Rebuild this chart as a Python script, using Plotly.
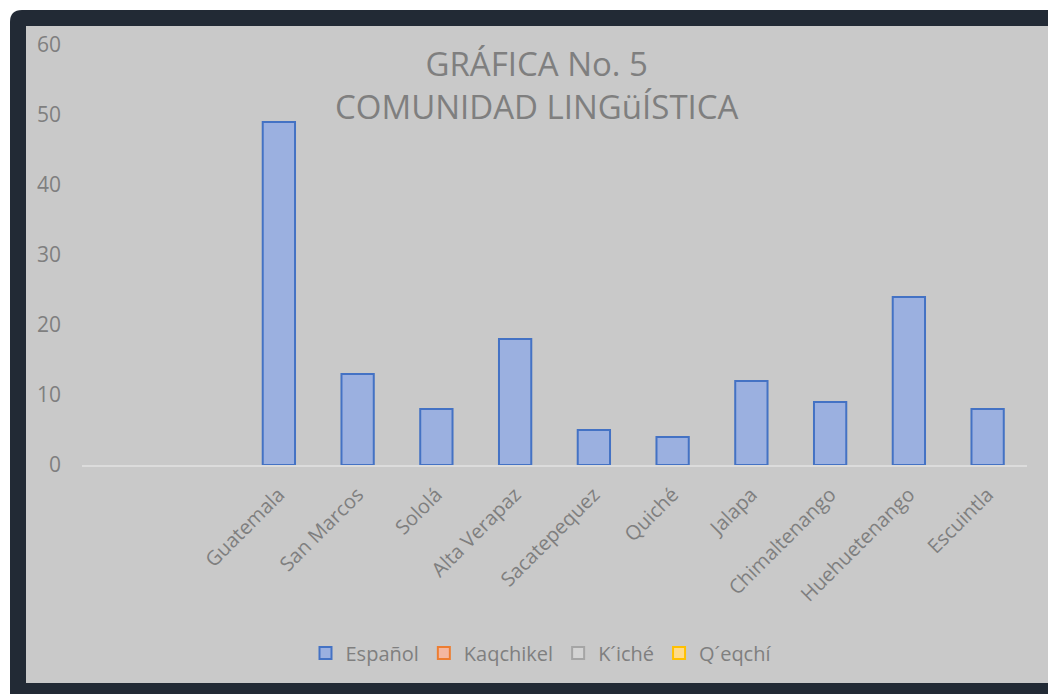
import plotly.graph_objects as go

categories = ["", " ", "Guatemala", "San Marcos", "Sololá", "Alta Verapaz", "Sacatepequez",
              "Quiché", "Jalapa", "Chimaltenango", "Huehuetenango", "Escuintla"]
espanol = [None, None, 49, 13, 8, 18, 5, 4, 12, 9, 24, 8]
kaqchikel = [None] * len(categories)
kiche = [None] * len(categories)
qeqchi = [None] * len(categories)
y_ticks = [0, 10, 20, 30, 40, 50, 60]

OFF = 0
PAGE_W, PAGE_H = 1048, 694
W, H = PAGE_W - OFF, PAGE_H - OFF
ML, MR, MT, MB = 82 - OFF, 21, 45 - OFF, 229
PW, PH = W - ML - MR, H - MT - MB

def px(x):
    return (x - OFF - ML) / PW

def py(y):
    return (H - MB - (y - OFF)) / PH

font_fam = "Open Sans, Noto Sans, sans-serif"
grey_txt = "#7f7f7f"

fig = go.Figure()
series = [
    ("Español", espanol, "#9bb0e0", "#4472c4"),
    ("Kaqchikel", kaqchikel, "#f4b7a0", "#ed7d31"),
    ("K´iché", kiche, "#d3d3d3", "#a5a5a5"),
    ("Q´eqchí", qeqchi, "#ffdb8a", "#ffc000"),
]
for name, vals, fill, line in series:
    fig.add_trace(go.Bar(
        x=categories, y=vals, name=name, width=0.41,
        marker=dict(color=fill, line=dict(color=line, width=2)),
        showlegend=True,
    ))

r = 12
x0, y0, x1, y1 = 10, 10, PAGE_W + 20, PAGE_H + 20
path = (f"M {px(x0)},{py(y0 + r)} Q {px(x0)},{py(y0)} {px(x0 + r)},{py(y0)} "
        f"L {px(x1)},{py(y0)} L {px(x1)},{py(y1)} L {px(x0)},{py(y1)} Z")

fig.update_layout(
    width=W, height=H,
    margin=dict(l=ML, r=MR, t=MT, b=MB),
    paper_bgcolor="white",
    plot_bgcolor="rgba(0,0,0,0)",
    barmode="overlay",
    font=dict(family=font_fam, color=grey_txt),
    shapes=[
        dict(type="path", xref="paper", yref="paper", path=path,
             fillcolor="#222a35", line=dict(width=0), layer="below"),
        dict(type="rect", xref="paper", yref="paper",
             x0=px(26), x1=px(PAGE_W + 20), y0=py(683), y1=py(26),
             fillcolor="#c9c9c9", line=dict(width=0), layer="below"),
    ],
    annotations=[
        dict(text="GRÁFICA No. 5<br>COMUNIDAD LINGüÍSTICA", xref="paper", yref="paper",
             x=px(537), y=py(85), xanchor="center", yanchor="middle", showarrow=False,
             font=dict(size=33, color=grey_txt, family=font_fam), align="center"),
    ],
    legend=dict(orientation="h", xanchor="center", yanchor="middle",
                x=px(541), y=py(653), font=dict(size=20, color=grey_txt),
                bgcolor="rgba(0,0,0,0)", itemwidth=30, traceorder="normal"),
    xaxis=dict(type="category", categoryorder="array", categoryarray=categories,
               tickangle=-45, tickfont=dict(size=20, color=grey_txt),
               showline=True, linecolor="#dcdcdc", linewidth=2, ticks="",
               showgrid=False, zeroline=False, fixedrange=True,
               ticklabelstandoff=8),
    yaxis=dict(range=[0, 60], tickvals=y_ticks, showgrid=False, zeroline=False,
               showline=False, tickfont=dict(size=21, color=grey_txt), ticks="",
               ticklabelstandoff=20),
)

fig.write_html(
    "out.html",
    config={"displayModeBar": False},
    post_script="document.body.style.margin='0';document.body.style.overflow='hidden';",
)
